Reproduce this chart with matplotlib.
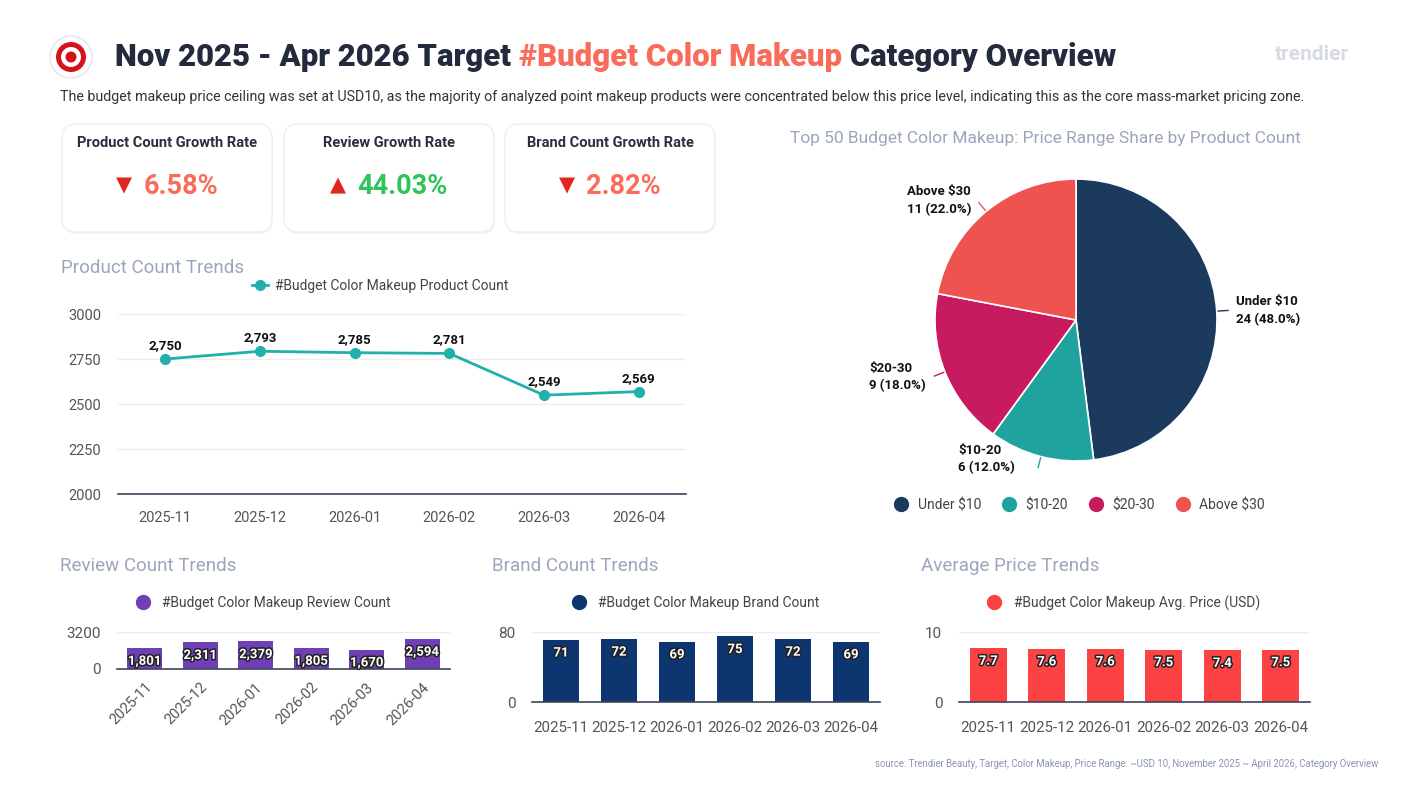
import matplotlib
matplotlib.use("Agg")
import matplotlib.pyplot as plt
import matplotlib.patheffects as pe
from matplotlib.patches import FancyBboxPatch, Circle
from matplotlib.lines import Line2D
import numpy as np

plt.rcParams['font.family'] = ['Roboto', 'DejaVu Sans']

# ---------------- data ----------------
months = ["2025-11", "2025-12", "2026-01", "2026-02", "2026-03", "2026-04"]
product_count = [2750, 2793, 2785, 2781, 2549, 2569]
review_count = [1801, 2311, 2379, 1805, 1670, 2594]
brand_count = [71, 72, 69, 75, 72, 69]
avg_price = [7.7, 7.6, 7.6, 7.5, 7.4, 7.5]

price_ranges = ["Under $10", "$10-20", "$20-30", "Above $30"]
price_range_counts = [24, 6, 9, 11]

kpi_titles = ["Product Count Growth Rate", "Review Growth Rate", "Brand Count Growth Rate"]
kpi_values = ["6.58%", "44.03%", "2.82%"]
kpi_up = [False, True, False]

title_parts = ["Nov 2025 - Apr 2026 Target ", "#Budget Color Makeup", " Category Overview"]
subtitle = ("The budget makeup price ceiling was set at USD10, as the majority of analyzed point makeup "
            "products were concentrated below this price level, indicating this as the core mass-market pricing zone.")
source = ("source: Trendier Beauty, Target, Color Makeup, Price Range: ~USD 10, November 2025 ~ April 2026, "
          "Category Overview")

# ---------------- style ----------------
W, H = 1408, 791
DARK = "#232a3e"
CORAL = "#f96b5b"
GREEN = "#2fc35a"
SEC = "#9ba5bc"
TICK = "#555555"
pie_colors = ["#1b3a5e", "#20a39e", "#c81a5f", "#ee5350"]

fig = plt.figure(figsize=(W / 100, H / 100), dpi=100)
fig.patch.set_facecolor("white")

bg = fig.add_axes([0, 0, 1, 1])
bg.set_xlim(0, W)
bg.set_ylim(H, 0)
bg.axis("off")

renderer = fig.canvas.get_renderer()


def px_axes(x0, y0, x1, y1):
    return fig.add_axes([x0 / W, 1 - y1 / H, (x1 - x0) / W, (y1 - y0) / H])


def fit_text(x, y, s, target_w, size, **kw):
    t = bg.text(x, y, s, fontsize=size, **kw)
    w = t.get_window_extent(renderer).width
    t.set_fontsize(size * target_w / w)
    return t


# ---------------- header ----------------
bg.add_patch(Circle((71, 57), 21, facecolor="white", edgecolor="#e8e8ee", lw=1.2, zorder=2))
bg.add_patch(Circle((71, 57), 15, facecolor="#d4121c", edgecolor="none", zorder=3))
bg.add_patch(Circle((71, 57), 10, facecolor="white", edgecolor="none", zorder=4))
bg.add_patch(Circle((71, 57), 5.5, facecolor="#d4121c", edgecolor="none", zorder=5))

probe = bg.text(0, 0, "".join(title_parts), fontsize=24, fontweight="heavy")
tw = probe.get_window_extent(renderer).width
probe.remove()
tsize = 24 * 1002 / tw
x = 115
for part, col in zip(title_parts, [DARK, CORAL, DARK]):
    t = bg.text(x, 57, part, fontsize=tsize, fontweight="heavy", color=col, va="center", ha="left")
    x += t.get_window_extent(renderer).width

fit_text(60, 97, subtitle, 1242, 10, color="#333333", va="center", ha="left")

bg.text(1312, 54, "trendier", fontsize=15, fontweight="bold", color="#d5dae3", va="center", ha="center")

# ---------------- KPI cards ----------------
card_x = [62, 284, 505]
for cx, title, val, up in zip(card_x, kpi_titles, kpi_values, kpi_up):
    bg.add_patch(FancyBboxPatch((cx + 1, 126), 210, 108, boxstyle="round,pad=0,rounding_size=14",
                                facecolor="#f3f3f6", edgecolor="none", zorder=1))
    bg.add_patch(FancyBboxPatch((cx, 124), 210, 108, boxstyle="round,pad=0,rounding_size=14",
                                facecolor="white", edgecolor="#efeff3", lw=1, zorder=2))
    bg.text(cx + 105, 143, title, fontsize=10.5, fontweight="bold", color="#2a2f3f",
            ha="center", va="center", zorder=3)
    col = GREEN if up else CORAL
    vt = bg.text(0, 186, val, fontsize=19.5, fontweight="bold", color=col, ha="left", va="center", zorder=3)
    vw = vt.get_window_extent(renderer).width
    total = vw + 27
    start = cx + 105 - total / 2
    vt.set_x(start + 27)
    bg.text(start + 8, 185, "▲" if up else "▼", fontsize=15, color="#e3261c",
            ha="center", va="center", zorder=3, family=["DejaVu Sans"])

# ---------------- section titles ----------------
bg.text(61, 268, "Product Count Trends", fontsize=13.5, color=SEC, va="center")
bg.text(60, 566, "Review Count Trends", fontsize=13.5, color=SEC, va="center")
bg.text(492, 566, "Brand Count Trends", fontsize=13.5, color=SEC, va="center")
bg.text(921, 566, "Average Price Trends", fontsize=13.5, color=SEC, va="center")
fit_text(790, 139, "Top 50 Budget Color Makeup: Price Range Share by Product Count", 512, 13,
         color=SEC, va="center", ha="left")
bg.text(1378, 764, source, fontsize=6.9, color="#8a96b0", va="center", ha="right")


def style_axes(ax, yticks):
    for s in ["top", "right", "left"]:
        ax.spines[s].set_visible(False)
    ax.spines["bottom"].set_color("#3d4459")
    ax.spines["bottom"].set_linewidth(1.2)
    ax.set_yticks(yticks)
    ax.yaxis.grid(True, color="#eeeeee", lw=1)
    ax.set_axisbelow(True)
    ax.tick_params(axis="both", length=0, colors=TICK, labelsize=10.5)
    ax.set_xlim(-0.5, 5.5)
    ax.set_facecolor("none")


x = np.arange(len(months))

# ---------------- product count line ----------------
ax1 = px_axes(118, 314, 686, 494)
teal = "#21b0aa"
ax1.plot(x, product_count, color=teal, lw=2, marker="o", ms=7, clip_on=False, zorder=3)
ax1.set_ylim(2000, 3000)
style_axes(ax1, [2000, 2250, 2500, 2750, 3000])
ax1.tick_params(axis="x", pad=12)
ax1.tick_params(axis="y", pad=12)
ax1.set_xticks(x)
ax1.set_xticklabels(months)
for xi, v in zip(x, product_count):
    ax1.annotate(f"{v:,}", (xi, v), xytext=(0, 5), textcoords="offset points", ha="center",
                 va="bottom", fontsize=9.5, fontweight="bold", color="#111111")
fig.legend(handles=[Line2D([], [], color=teal, lw=2, marker="o", ms=7)],
           labels=["#Budget Color Makeup Product Count"], loc="center",
           bbox_to_anchor=(380 / W, 1 - 286 / H), frameon=False, fontsize=10,
           labelcolor="#444444", handlelength=1.2, handletextpad=0.5)


def bar_chart(rect, values, color, ymax, fmt, label, legend_x, outline, rotate=False):
    ax = px_axes(*rect)
    ax.bar(x, values, width=0.63, color=color, zorder=2)
    ax.set_ylim(0, ymax)
    style_axes(ax, [0, ymax])
    ax.set_xticks(x)
    if rotate:
        ax.set_xticklabels(months, rotation=45, ha="right", rotation_mode="anchor")
        ax.tick_params(axis="x", pad=8)
    else:
        ax.set_xticklabels(months)
        ax.tick_params(axis="x", pad=14, labelsize=10.8)
    ax.tick_params(axis="y", pad=12, labelsize=11)
    for xi, v in zip(x, values):
        t = ax.annotate(fmt(v), (xi, v), xytext=(0, -9.5), textcoords="offset points", ha="center",
                        va="center", fontsize=9.5, fontweight="bold", color="white", zorder=3)
        if outline:
            t.set_path_effects([pe.withStroke(linewidth=2.2, foreground="#222222")])
    fig.legend(handles=[Line2D([], [], color=color, lw=0, marker="o", ms=10)],
               labels=[label], loc="center", bbox_to_anchor=(legend_x / W, 1 - 603 / H),
               frameon=False, fontsize=10, labelcolor="#444444", handletextpad=0.4)
    return ax


bar_chart((117, 632, 450, 669), review_count, "#6f3fb5", 3200, lambda v: f"{v:,}",
          "#Budget Color Makeup Review Count", 260, True, rotate=True)
bar_chart((532, 632, 880, 702), brand_count, "#0d3570", 80, lambda v: f"{v}",
          "#Budget Color Makeup Brand Count", 692, True)
bar_chart((959, 632, 1310, 702), avg_price, "#fc4242", 10, lambda v: f"{v}",
          "#Budget Color Makeup Avg. Price (USD)", 1120, True)

# ---------------- pie ----------------
R = 141
half = 1.7
axp = px_axes(1076 - half * R, 320 - half * R, 1076 + half * R, 320 + half * R)
wedges, _ = axp.pie(price_range_counts, colors=pie_colors, startangle=90, counterclock=False,
                    radius=1, wedgeprops=dict(edgecolor="white", linewidth=1.2))
axp.set_xlim(-half, half)
axp.set_ylim(-half, half)
axp.set_aspect("equal")
axp.axis("off")
total = sum(price_range_counts)
for w, name, cnt, col in zip(wedges, price_ranges, price_range_counts, pie_colors):
    ang = np.deg2rad((w.theta1 + w.theta2) / 2)
    c, s = np.cos(ang), np.sin(ang)
    axp.plot([1.01 * c, 1.08 * c], [1.01 * s, 1.08 * s], color=col, lw=1)
    bottom = s < -0.9
    axp.annotate(f"{name}\n{cnt} ({cnt / total * 100:.1f}%)", (1.1 * c, 1.1 * s),
                 xytext=(-16 if bottom else (4 if c > 0 else -4), 8 if bottom else 0),
                 textcoords="offset points",
                 ha="left" if c > 0 else "right", va="center", multialignment="left",
                 fontsize=9.5, fontweight="bold", color="#111111", linespacing=1.45)

fig.legend(handles=[Line2D([], [], color=c, lw=0, marker="o", ms=10) for c in pie_colors],
           labels=price_ranges, loc="center", ncol=4, bbox_to_anchor=(1076 / W, 1 - 505 / H),
           frameon=False, fontsize=10, labelcolor="#444444", handletextpad=0.2, columnspacing=1.0)

fig.savefig("out.png", dpi=100, facecolor="white")
